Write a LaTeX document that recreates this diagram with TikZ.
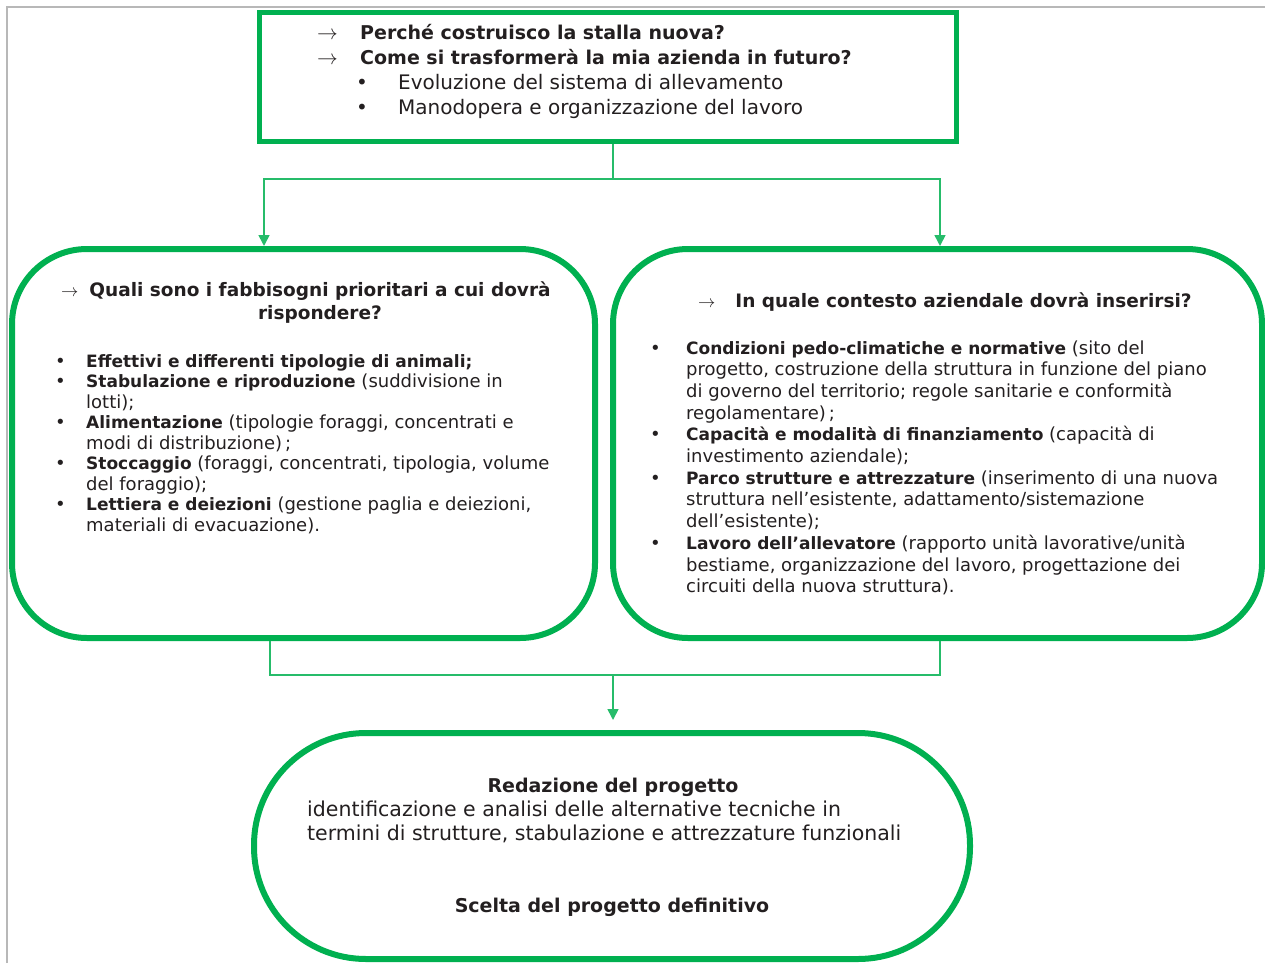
\documentclass[tikz,border=0pt]{standalone}
\usepackage{fontspec}
\setmainfont{DejaVu Sans}
\usetikzlibrary{arrows.meta,positioning}
\definecolor{leaf}{RGB}{0,176,80}
\definecolor{ink}{RGB}{35,31,32}
\newcommand{\kw}[1]{{\bfseries\fontsize{17}{20}\selectfont#1}}

\begin{document}
\begin{tikzpicture}[x=1pt,y=-1pt,
    sqbox/.style={draw=leaf,line width=5pt,inner sep=0pt},
    rbox/.style={draw=leaf,line width=6pt,inner sep=0pt,rounded corners=75pt},
    pill/.style={draw=leaf,line width=6pt,inner sep=0pt,rounded corners=112pt},
    link/.style={draw=leaf!85,line width=1.6pt},
    tip/.style={-{Triangle[length=11pt,width=11pt]}},
    txt/.style={inner sep=0pt,text=ink,anchor=base west},
    frame/.style={draw=black!28,line width=1.5pt}]
      \useasboundingbox(0,0)rectangle(1265,963);
      \draw[frame](7,963)--(7,7)--(1265,7);
      % boxes
      \node[sqbox,minimum width=697pt,minimum height=129pt](top)at(608,77){};
      \node[rbox,minimum width=583pt,minimum height=389pt](need)at(303.5,443.5){};
      \node[rbox,minimum width=649pt,minimum height=389pt](ctx)at(937.5,443.5){};
      \node[pill,minimum width=716pt,minimum height=226pt](plan)at(612,846){};
      % connectors
      \coordinate(fork)at(613,179);
      \coordinate(join)at(613,675);
      \draw[link]([xshift=5pt]top.south)--(fork);
      \draw[link,tip](fork)-|([xshift=-39.5pt]need.north);
      \draw[link,tip](fork)-|([xshift=2.5pt]ctx.north);
      \draw[link]([xshift=-33.5pt]need.south)|-(join);
      \draw[link]([xshift=2.5pt]ctx.south)|-(join);
      \draw[link,tip,shorten >=10pt](join)--(join|-plan.north);
      % top box
      \node[txt,font=\fontsize{20}{25}\selectfont](why)at(317,40){\begin{tabular}[t]{@{}l@{}}
        \makebox[43pt][l]{$\rightarrow$}{\bfseries\fontsize{19}{25}\selectfont Perché costruisco la stalla nuova?}\\
        \makebox[43pt][l]{$\rightarrow$}{\bfseries\fontsize{19}{25}\selectfont Come si trasformerà la mia azienda in futuro?}\\
        \hspace*{39pt}\makebox[42pt][l]{•}Evoluzione del sistema di allevamento\\
        \hspace*{39pt}\makebox[42pt][l]{•}Manodopera e organizzazione del lavoro
      \end{tabular}};
      % left box
      \node[txt,anchor=base,font=\bfseries\fontsize{18.5}{23}\selectfont](needq)at(320,296){\begin{tabular}[t]{@{}c@{}}
        \llap{$\rightarrow$\hspace{11pt}}Quali sono i fabbisogni prioritari a cui dovrà\\
        rispondere?
      \end{tabular}};
      \node[txt,font=\fontsize{18}{20.5}\selectfont](needl)at(55,367){\begin{tabular}[t]{@{}p{31pt}@{}l@{}}
        • & \kw{Effettivi e differenti tipologie di animali;}\\
        • & \kw{Stabulazione e riproduzione} (suddivisione in\\
          & lotti);\\
        • & \kw{Alimentazione} (tipologie foraggi, concentrati e\\
          & modi di distribuzione)\,;\\
        • & \kw{Stoccaggio} (foraggi, concentrati, tipologia, volume\\
          & del foraggio);\\
        • & \kw{Lettiera e deiezioni} (gestione paglia e deiezioni,\\
          & materiali di evacuazione).
      \end{tabular}};
      % right box
      \node[txt,anchor=base,font=\bfseries\fontsize{18.5}{23}\selectfont](ctxq)at(963.5,307){\llap{$\rightarrow$\hspace{20pt}}In quale contesto aziendale dovrà inserirsi?};
      \node[txt,font=\fontsize{18}{21.7}\selectfont](ctxl)at(650,354){\begin{tabular}[t]{@{}p{36pt}@{}l@{}}
        • & \kw{Condizioni pedo-climatiche e normative} (sito del\\
          & progetto, costruzione della struttura in funzione del piano\\
          & di governo del territorio; regole sanitarie e conformità\\
          & regolamentare)\,;\\
        • & \kw{Capacità e modalità di finanziamento} (capacità di\\
          & investimento aziendale);\\
        • & \kw{Parco strutture e attrezzature} (inserimento di una nuova\\
          & struttura nell’esistente, adattamento/sistemazione\\
          & dell’esistente);\\
        • & \kw{Lavoro dell’allevatore} (rapporto unità lavorative/unità\\
          & bestiame, organizzazione del lavoro, progettazione dei\\
          & circuiti della nuova struttura).
      \end{tabular}};
      % bottom box
      \node[txt,anchor=base,font=\bfseries\fontsize{19}{24}\selectfont](plant)at(613,792){Redazione del progetto};
      \node[txt,font=\fontsize{20.5}{24}\selectfont](planb)at(307,816){\begin{tabular}[t]{@{}l@{}}
        identificazione e analisi delle alternative tecniche in\\
        termini di strutture, stabulazione e attrezzature funzionali
      \end{tabular}};
      \node[txt,anchor=base,font=\bfseries\fontsize{19}{24}\selectfont](plans)at(612,912){Scelta del progetto definitivo};
    \end{tikzpicture}
\end{document}
